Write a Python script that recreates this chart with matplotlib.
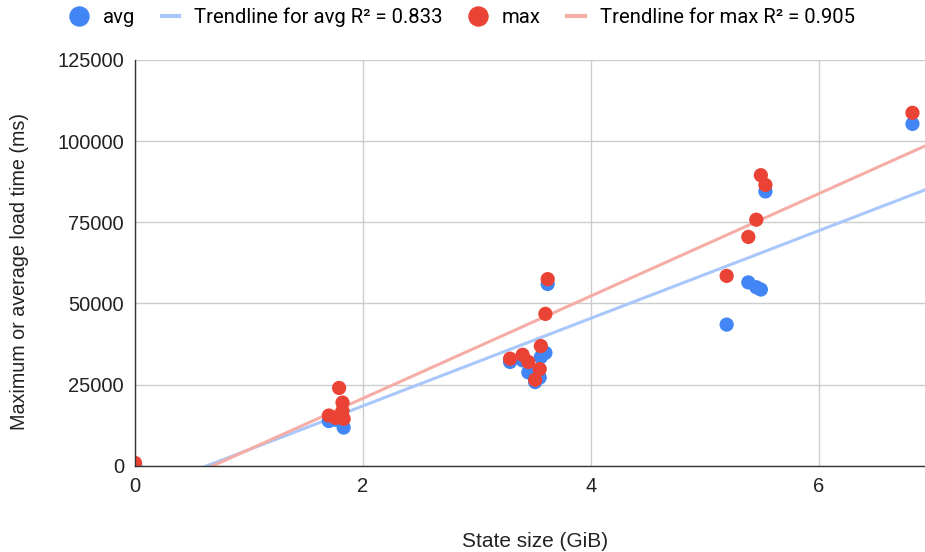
import matplotlib.pyplot as plt
from matplotlib.lines import Line2D
import numpy as np

# State size (GiB) for each measured run
state_size = [0.0,
              1.70, 1.76, 1.79, 1.82, 1.82, 1.83,
              3.29, 3.40, 3.45, 3.51, 3.55, 3.56, 3.60, 3.62,
              5.19, 5.38, 5.45, 5.49, 5.53,
              6.82]
# Average load time (ms)
avg_ms = [300,
          13800, 14200, 15000, 14000, 14500, 11800,
          32000, 32500, 28800, 25800, 27200, 33500, 34800, 56000,
          43500, 56500, 55000, 54300, 84500,
          105300]
# Maximum load time (ms)
max_ms = [900,
          15500, 14800, 24000, 17000, 19500, 14500,
          33000, 34200, 32000, 26500, 29800, 36900, 46800, 57500,
          58500, 70500, 75800, 89500, 86500,
          108700]

# linear trendlines: slope (ms per GiB), intercept (ms)
avg_trend = [13490, -8500]
max_trend = [15760, -10720]

avg_label = "Trendline for avg R\u00b2 = 0.833"
max_label = "Trendline for max R\u00b2 = 0.905"

BLUE = "#4285F4"
RED = "#EA4335"
BLUE_TREND = "#A8C7FA"
RED_TREND = "#F5ADA6"

plt.rcParams['font.family'] = ['Liberation Sans', 'DejaVu Sans']

fig = plt.figure(figsize=(9.25, 5.52), dpi=100)
ax = fig.add_axes([0.146, 0.156, 0.854, 0.7355])

x = np.array(state_size)
xs = np.array([0, 6.93])

ax.plot(xs, np.polyval(avg_trend, xs), color=BLUE_TREND, lw=2.2, zorder=2)
ax.plot(xs, np.polyval(max_trend, xs), color=RED_TREND, lw=2.2, zorder=2)

ax.scatter(x, avg_ms, s=105, color=BLUE, edgecolors='none', zorder=3)
ax.scatter(x, max_ms, s=105, color=RED, edgecolors='none', zorder=4)

ax.set_xlim(0, 6.93)
ax.set_ylim(0, 125000)
ax.set_xticks([0, 2, 4, 6])
ax.set_yticks(np.arange(0, 125001, 25000))
ax.grid(True, color='#CCCCCC', lw=1)
ax.set_axisbelow(True)
ax.tick_params(length=0, labelsize=14.5, colors='#222222', pad=8)
for s in ['top', 'right']:
    ax.spines[s].set_visible(False)
for s in ['left', 'bottom']:
    ax.spines[s].set_color('#333333')
    ax.spines[s].set_linewidth(1)
    ax.spines[s].set_zorder(5)

ax.set_xlabel("State size (GiB)", fontsize=15, color='#222222', labelpad=26)
ax.set_ylabel("Maximum or average load time (ms)", fontsize=14.2,
              color='#222222', labelpad=20)
ax.xaxis.label.set_x(0.506)
ax.yaxis.label.set_y(0.478)

handles = [
    Line2D([], [], marker='o', ls='none', color=BLUE, markersize=13.7),
    Line2D([], [], color=BLUE_TREND, lw=3),
    Line2D([], [], marker='o', ls='none', color=RED, markersize=13.7),
    Line2D([], [], color=RED_TREND, lw=3),
]
labels = ["avg", avg_label, "max", max_label]
fig.legend(handles, labels, loc='upper center', ncol=4, frameon=False,
           bbox_to_anchor=(0.5, 1.02), handlelength=0.88,
           handletextpad=0.73, columnspacing=1.3,
           prop={'family': ['Roboto', 'DejaVu Sans'], 'size': 14.6})

fig.savefig("out.png", dpi=100)
